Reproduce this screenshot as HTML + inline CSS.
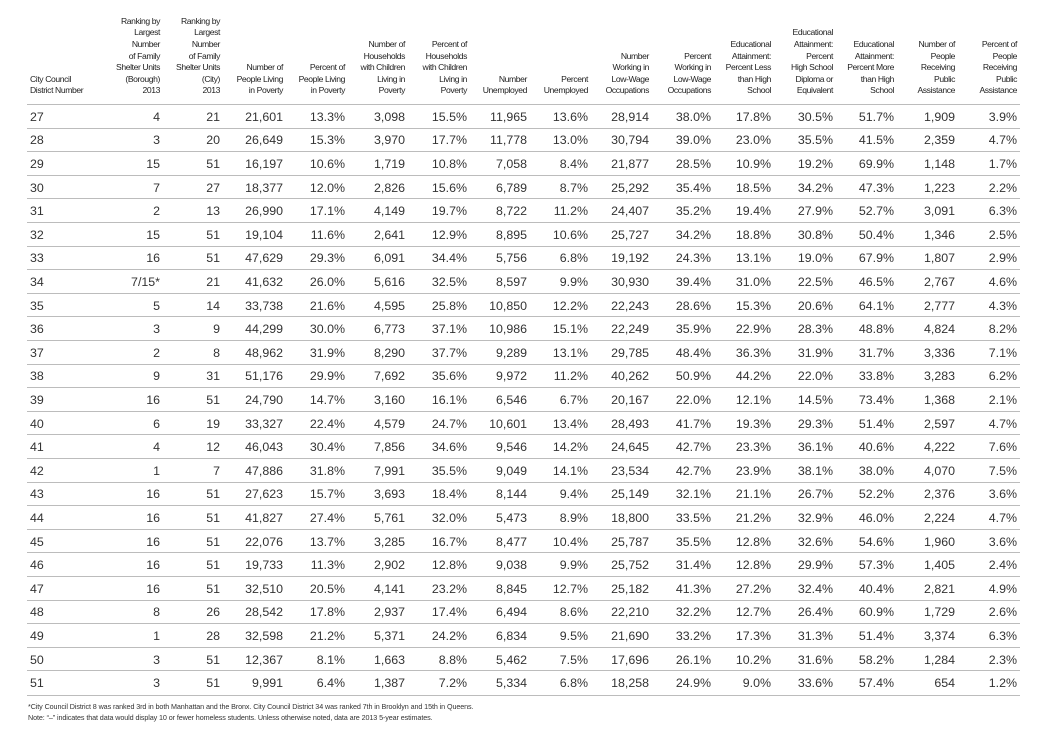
<!DOCTYPE html>
<html><head><meta charset="utf-8"><style>
body{margin:0;width:1046px;height:738px;background:#fff;font-family:"Liberation Sans",sans-serif;color:#333;position:relative;overflow:hidden}
.hd{position:absolute;left:27px;top:0;height:97px;display:flex;align-items:flex-end;font-size:8.6px;line-height:11.6px;letter-spacing:-0.4px;color:#222}
.hd div,.r div{box-sizing:border-box;text-align:right;padding-right:3px}
.hd div:first-child,.r div:first-child{text-align:left;padding-left:3px}
.r{position:absolute;left:27px;width:993px;height:23.6px;border-top:1.3px solid #bcbcbc;display:flex;align-items:center;font-size:12.4px;color:#333}
.last{border-bottom:1.3px solid #bcbcbc}
.c1{width:73px}.c2{width:63px}.c3{width:60px}.c4{width:63px}.c5{width:62px}.c6{width:60px}.c7{width:62px}.c8{width:60px}.c9{width:61px}.c10{width:61px}.c11{width:62px}.c12{width:60px}.c13{width:62px}.c14{width:61px}.c15{width:61px}.c16{width:62px}
.fn{position:absolute;left:28px;font-size:7.2px;color:#333;letter-spacing:-0.1px}
</style></head><body>
<div class="hd">
<div class="c1">City Council<br>District Number</div>
<div class="c2">Ranking by<br>Largest<br>Number<br>of Family<br>Shelter Units<br>(Borough)<br>2013</div>
<div class="c3">Ranking by<br>Largest<br>Number<br>of Family<br>Shelter Units<br>(City)<br>2013</div>
<div class="c4">Number of<br>People Living<br>in Poverty</div>
<div class="c5">Percent of<br>People Living<br>in Poverty</div>
<div class="c6">Number of<br>Households<br>with Children<br>Living in<br>Poverty</div>
<div class="c7">Percent of<br>Households<br>with Children<br>Living in<br>Poverty</div>
<div class="c8">Number<br>Unemployed</div>
<div class="c9">Percent<br>Unemployed</div>
<div class="c10">Number<br>Working in<br>Low-Wage<br>Occupations</div>
<div class="c11">Percent<br>Working in<br>Low-Wage<br>Occupations</div>
<div class="c12">Educational<br>Attainment:<br>Percent Less<br>than High<br>School</div>
<div class="c13">Educational<br>Attainment:<br>Percent<br>High School<br>Diploma or<br>Equivalent</div>
<div class="c14">Educational<br>Attainment:<br>Percent More<br>than High<br>School</div>
<div class="c15">Number of<br>People<br>Receiving<br>Public<br>Assistance</div>
<div class="c16">Percent of<br>People<br>Receiving<br>Public<br>Assistance</div>
</div>

<div class="r" style="top:104px"><div class="c1">27</div><div class="c2">4</div><div class="c3">21</div><div class="c4">21,601</div><div class="c5">13.3%</div><div class="c6">3,098</div><div class="c7">15.5%</div><div class="c8">11,965</div><div class="c9">13.6%</div><div class="c10">28,914</div><div class="c11">38.0%</div><div class="c12">17.8%</div><div class="c13">30.5%</div><div class="c14">51.7%</div><div class="c15">1,909</div><div class="c16">3.9%</div></div>
<div class="r" style="top:127.6px"><div class="c1">28</div><div class="c2">3</div><div class="c3">20</div><div class="c4">26,649</div><div class="c5">15.3%</div><div class="c6">3,970</div><div class="c7">17.7%</div><div class="c8">11,778</div><div class="c9">13.0%</div><div class="c10">30,794</div><div class="c11">39.0%</div><div class="c12">23.0%</div><div class="c13">35.5%</div><div class="c14">41.5%</div><div class="c15">2,359</div><div class="c16">4.7%</div></div>
<div class="r" style="top:151.2px"><div class="c1">29</div><div class="c2">15</div><div class="c3">51</div><div class="c4">16,197</div><div class="c5">10.6%</div><div class="c6">1,719</div><div class="c7">10.8%</div><div class="c8">7,058</div><div class="c9">8.4%</div><div class="c10">21,877</div><div class="c11">28.5%</div><div class="c12">10.9%</div><div class="c13">19.2%</div><div class="c14">69.9%</div><div class="c15">1,148</div><div class="c16">1.7%</div></div>
<div class="r" style="top:174.8px"><div class="c1">30</div><div class="c2">7</div><div class="c3">27</div><div class="c4">18,377</div><div class="c5">12.0%</div><div class="c6">2,826</div><div class="c7">15.6%</div><div class="c8">6,789</div><div class="c9">8.7%</div><div class="c10">25,292</div><div class="c11">35.4%</div><div class="c12">18.5%</div><div class="c13">34.2%</div><div class="c14">47.3%</div><div class="c15">1,223</div><div class="c16">2.2%</div></div>
<div class="r" style="top:198.4px"><div class="c1">31</div><div class="c2">2</div><div class="c3">13</div><div class="c4">26,990</div><div class="c5">17.1%</div><div class="c6">4,149</div><div class="c7">19.7%</div><div class="c8">8,722</div><div class="c9">11.2%</div><div class="c10">24,407</div><div class="c11">35.2%</div><div class="c12">19.4%</div><div class="c13">27.9%</div><div class="c14">52.7%</div><div class="c15">3,091</div><div class="c16">6.3%</div></div>
<div class="r" style="top:222px"><div class="c1">32</div><div class="c2">15</div><div class="c3">51</div><div class="c4">19,104</div><div class="c5">11.6%</div><div class="c6">2,641</div><div class="c7">12.9%</div><div class="c8">8,895</div><div class="c9">10.6%</div><div class="c10">25,727</div><div class="c11">34.2%</div><div class="c12">18.8%</div><div class="c13">30.8%</div><div class="c14">50.4%</div><div class="c15">1,346</div><div class="c16">2.5%</div></div>
<div class="r" style="top:245.6px"><div class="c1">33</div><div class="c2">16</div><div class="c3">51</div><div class="c4">47,629</div><div class="c5">29.3%</div><div class="c6">6,091</div><div class="c7">34.4%</div><div class="c8">5,756</div><div class="c9">6.8%</div><div class="c10">19,192</div><div class="c11">24.3%</div><div class="c12">13.1%</div><div class="c13">19.0%</div><div class="c14">67.9%</div><div class="c15">1,807</div><div class="c16">2.9%</div></div>
<div class="r" style="top:269.2px"><div class="c1">34</div><div class="c2">7/15*</div><div class="c3">21</div><div class="c4">41,632</div><div class="c5">26.0%</div><div class="c6">5,616</div><div class="c7">32.5%</div><div class="c8">8,597</div><div class="c9">9.9%</div><div class="c10">30,930</div><div class="c11">39.4%</div><div class="c12">31.0%</div><div class="c13">22.5%</div><div class="c14">46.5%</div><div class="c15">2,767</div><div class="c16">4.6%</div></div>
<div class="r" style="top:292.8px"><div class="c1">35</div><div class="c2">5</div><div class="c3">14</div><div class="c4">33,738</div><div class="c5">21.6%</div><div class="c6">4,595</div><div class="c7">25.8%</div><div class="c8">10,850</div><div class="c9">12.2%</div><div class="c10">22,243</div><div class="c11">28.6%</div><div class="c12">15.3%</div><div class="c13">20.6%</div><div class="c14">64.1%</div><div class="c15">2,777</div><div class="c16">4.3%</div></div>
<div class="r" style="top:316.4px"><div class="c1">36</div><div class="c2">3</div><div class="c3">9</div><div class="c4">44,299</div><div class="c5">30.0%</div><div class="c6">6,773</div><div class="c7">37.1%</div><div class="c8">10,986</div><div class="c9">15.1%</div><div class="c10">22,249</div><div class="c11">35.9%</div><div class="c12">22.9%</div><div class="c13">28.3%</div><div class="c14">48.8%</div><div class="c15">4,824</div><div class="c16">8.2%</div></div>
<div class="r" style="top:340px"><div class="c1">37</div><div class="c2">2</div><div class="c3">8</div><div class="c4">48,962</div><div class="c5">31.9%</div><div class="c6">8,290</div><div class="c7">37.7%</div><div class="c8">9,289</div><div class="c9">13.1%</div><div class="c10">29,785</div><div class="c11">48.4%</div><div class="c12">36.3%</div><div class="c13">31.9%</div><div class="c14">31.7%</div><div class="c15">3,336</div><div class="c16">7.1%</div></div>
<div class="r" style="top:363.6px"><div class="c1">38</div><div class="c2">9</div><div class="c3">31</div><div class="c4">51,176</div><div class="c5">29.9%</div><div class="c6">7,692</div><div class="c7">35.6%</div><div class="c8">9,972</div><div class="c9">11.2%</div><div class="c10">40,262</div><div class="c11">50.9%</div><div class="c12">44.2%</div><div class="c13">22.0%</div><div class="c14">33.8%</div><div class="c15">3,283</div><div class="c16">6.2%</div></div>
<div class="r" style="top:387.2px"><div class="c1">39</div><div class="c2">16</div><div class="c3">51</div><div class="c4">24,790</div><div class="c5">14.7%</div><div class="c6">3,160</div><div class="c7">16.1%</div><div class="c8">6,546</div><div class="c9">6.7%</div><div class="c10">20,167</div><div class="c11">22.0%</div><div class="c12">12.1%</div><div class="c13">14.5%</div><div class="c14">73.4%</div><div class="c15">1,368</div><div class="c16">2.1%</div></div>
<div class="r" style="top:410.8px"><div class="c1">40</div><div class="c2">6</div><div class="c3">19</div><div class="c4">33,327</div><div class="c5">22.4%</div><div class="c6">4,579</div><div class="c7">24.7%</div><div class="c8">10,601</div><div class="c9">13.4%</div><div class="c10">28,493</div><div class="c11">41.7%</div><div class="c12">19.3%</div><div class="c13">29.3%</div><div class="c14">51.4%</div><div class="c15">2,597</div><div class="c16">4.7%</div></div>
<div class="r" style="top:434.4px"><div class="c1">41</div><div class="c2">4</div><div class="c3">12</div><div class="c4">46,043</div><div class="c5">30.4%</div><div class="c6">7,856</div><div class="c7">34.6%</div><div class="c8">9,546</div><div class="c9">14.2%</div><div class="c10">24,645</div><div class="c11">42.7%</div><div class="c12">23.3%</div><div class="c13">36.1%</div><div class="c14">40.6%</div><div class="c15">4,222</div><div class="c16">7.6%</div></div>
<div class="r" style="top:458px"><div class="c1">42</div><div class="c2">1</div><div class="c3">7</div><div class="c4">47,886</div><div class="c5">31.8%</div><div class="c6">7,991</div><div class="c7">35.5%</div><div class="c8">9,049</div><div class="c9">14.1%</div><div class="c10">23,534</div><div class="c11">42.7%</div><div class="c12">23.9%</div><div class="c13">38.1%</div><div class="c14">38.0%</div><div class="c15">4,070</div><div class="c16">7.5%</div></div>
<div class="r" style="top:481.6px"><div class="c1">43</div><div class="c2">16</div><div class="c3">51</div><div class="c4">27,623</div><div class="c5">15.7%</div><div class="c6">3,693</div><div class="c7">18.4%</div><div class="c8">8,144</div><div class="c9">9.4%</div><div class="c10">25,149</div><div class="c11">32.1%</div><div class="c12">21.1%</div><div class="c13">26.7%</div><div class="c14">52.2%</div><div class="c15">2,376</div><div class="c16">3.6%</div></div>
<div class="r" style="top:505.2px"><div class="c1">44</div><div class="c2">16</div><div class="c3">51</div><div class="c4">41,827</div><div class="c5">27.4%</div><div class="c6">5,761</div><div class="c7">32.0%</div><div class="c8">5,473</div><div class="c9">8.9%</div><div class="c10">18,800</div><div class="c11">33.5%</div><div class="c12">21.2%</div><div class="c13">32.9%</div><div class="c14">46.0%</div><div class="c15">2,224</div><div class="c16">4.7%</div></div>
<div class="r" style="top:528.8px"><div class="c1">45</div><div class="c2">16</div><div class="c3">51</div><div class="c4">22,076</div><div class="c5">13.7%</div><div class="c6">3,285</div><div class="c7">16.7%</div><div class="c8">8,477</div><div class="c9">10.4%</div><div class="c10">25,787</div><div class="c11">35.5%</div><div class="c12">12.8%</div><div class="c13">32.6%</div><div class="c14">54.6%</div><div class="c15">1,960</div><div class="c16">3.6%</div></div>
<div class="r" style="top:552.4px"><div class="c1">46</div><div class="c2">16</div><div class="c3">51</div><div class="c4">19,733</div><div class="c5">11.3%</div><div class="c6">2,902</div><div class="c7">12.8%</div><div class="c8">9,038</div><div class="c9">9.9%</div><div class="c10">25,752</div><div class="c11">31.4%</div><div class="c12">12.8%</div><div class="c13">29.9%</div><div class="c14">57.3%</div><div class="c15">1,405</div><div class="c16">2.4%</div></div>
<div class="r" style="top:576px"><div class="c1">47</div><div class="c2">16</div><div class="c3">51</div><div class="c4">32,510</div><div class="c5">20.5%</div><div class="c6">4,141</div><div class="c7">23.2%</div><div class="c8">8,845</div><div class="c9">12.7%</div><div class="c10">25,182</div><div class="c11">41.3%</div><div class="c12">27.2%</div><div class="c13">32.4%</div><div class="c14">40.4%</div><div class="c15">2,821</div><div class="c16">4.9%</div></div>
<div class="r" style="top:599.6px"><div class="c1">48</div><div class="c2">8</div><div class="c3">26</div><div class="c4">28,542</div><div class="c5">17.8%</div><div class="c6">2,937</div><div class="c7">17.4%</div><div class="c8">6,494</div><div class="c9">8.6%</div><div class="c10">22,210</div><div class="c11">32.2%</div><div class="c12">12.7%</div><div class="c13">26.4%</div><div class="c14">60.9%</div><div class="c15">1,729</div><div class="c16">2.6%</div></div>
<div class="r" style="top:623.2px"><div class="c1">49</div><div class="c2">1</div><div class="c3">28</div><div class="c4">32,598</div><div class="c5">21.2%</div><div class="c6">5,371</div><div class="c7">24.2%</div><div class="c8">6,834</div><div class="c9">9.5%</div><div class="c10">21,690</div><div class="c11">33.2%</div><div class="c12">17.3%</div><div class="c13">31.3%</div><div class="c14">51.4%</div><div class="c15">3,374</div><div class="c16">6.3%</div></div>
<div class="r" style="top:646.8px"><div class="c1">50</div><div class="c2">3</div><div class="c3">51</div><div class="c4">12,367</div><div class="c5">8.1%</div><div class="c6">1,663</div><div class="c7">8.8%</div><div class="c8">5,462</div><div class="c9">7.5%</div><div class="c10">17,696</div><div class="c11">26.1%</div><div class="c12">10.2%</div><div class="c13">31.6%</div><div class="c14">58.2%</div><div class="c15">1,284</div><div class="c16">2.3%</div></div>
<div class="r last" style="top:670.4px"><div class="c1">51</div><div class="c2">3</div><div class="c3">51</div><div class="c4">9,991</div><div class="c5">6.4%</div><div class="c6">1,387</div><div class="c7">7.2%</div><div class="c8">5,334</div><div class="c9">6.8%</div><div class="c10">18,258</div><div class="c11">24.9%</div><div class="c12">9.0%</div><div class="c13">33.6%</div><div class="c14">57.4%</div><div class="c15">654</div><div class="c16">1.2%</div></div>

<div class="fn" style="top:702px">*City Council District 8 was ranked 3rd in both Manhattan and the Bronx. City Council District 34 was ranked 7th in Brooklyn and 15th in Queens.</div>
<div class="fn" style="top:713px">Note: “–” indicates that data would display 10 or fewer homeless students. Unless otherwise noted, data are 2013 5-year estimates.</div>
</body></html>
